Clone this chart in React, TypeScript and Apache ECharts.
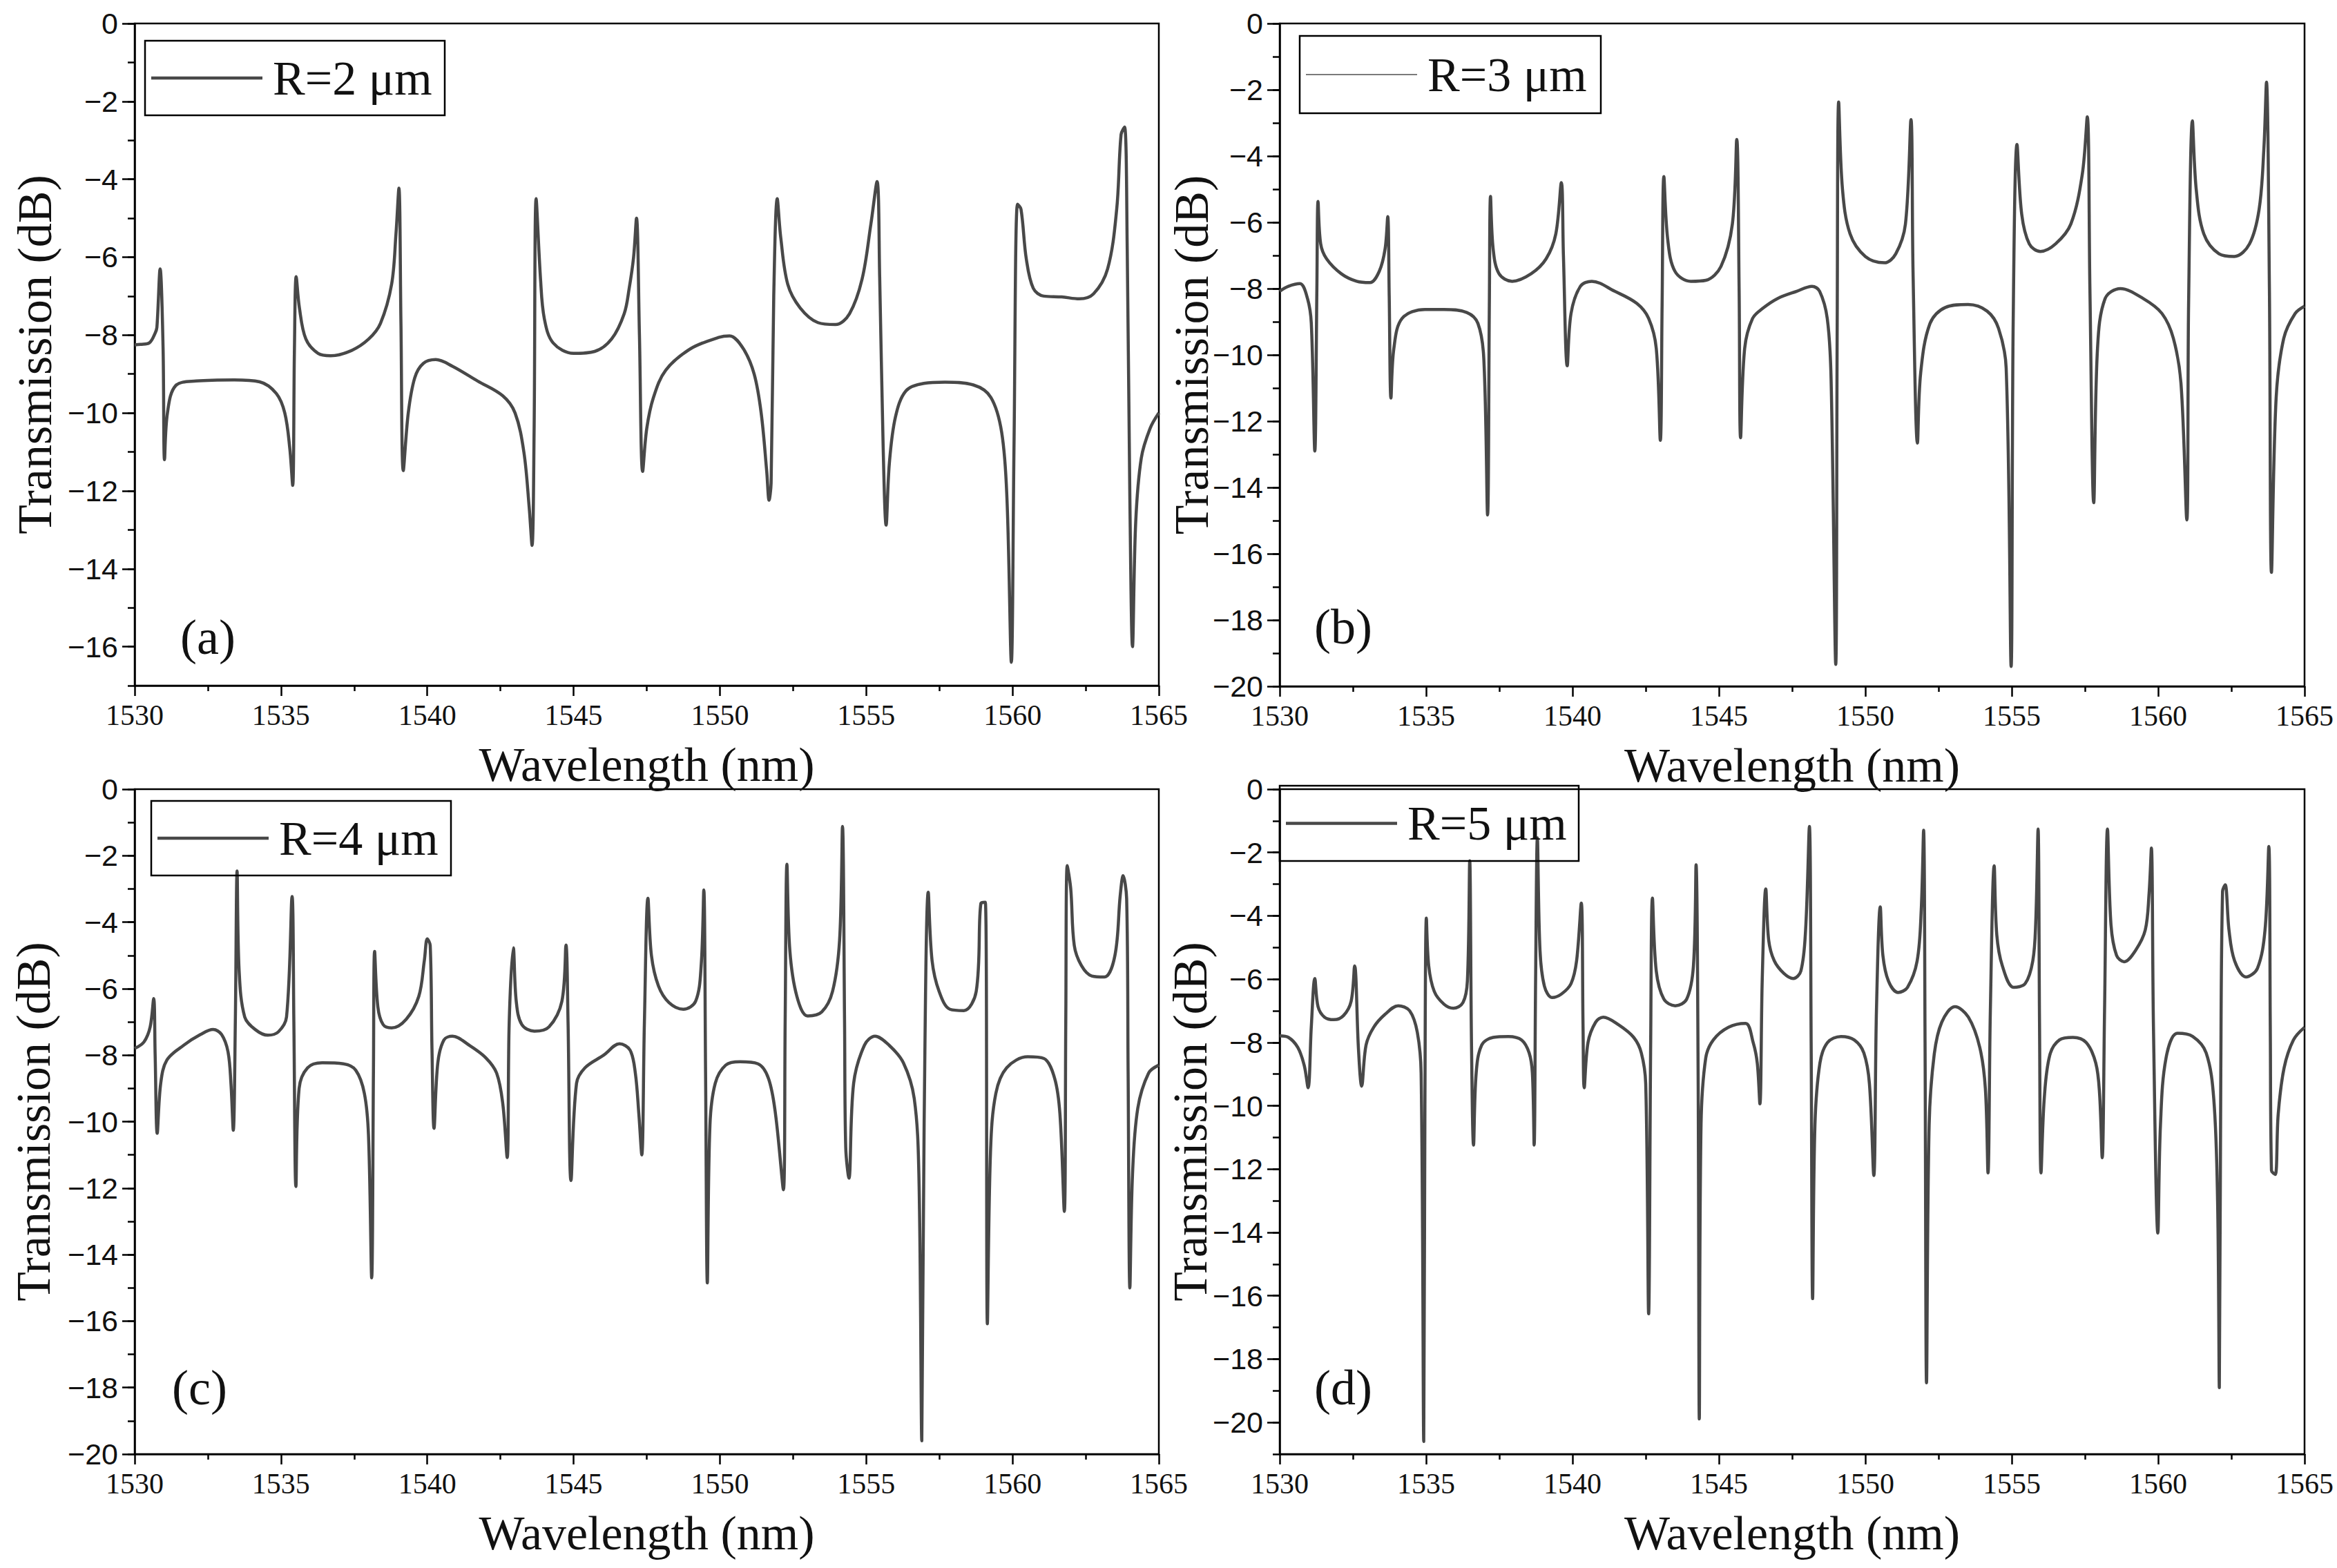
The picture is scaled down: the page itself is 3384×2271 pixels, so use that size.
import React, { useEffect, useRef } from 'react';
import * as echarts from 'echarts';

// transmission spectra: [wavelength nm, transmission dB]
const curveR2: number[][] = [
  [1530.0, -8.25], [1530.2, -8.24], [1530.5, -8.2], [1530.7, -7.95], [1530.76, -7.8], [1530.87, -6.3],
  [1530.97, -8.3], [1531.02, -11.2], [1531.12, -10.0], [1531.4, -9.3], [1532.1, -9.18], [1533.4, -9.15],
  [1534.27, -9.2], [1534.84, -9.5], [1535.13, -10.0], [1535.3, -10.9], [1535.4, -11.86], [1535.46, -8.35],
  [1535.52, -6.5], [1535.63, -7.3], [1535.85, -8.1], [1536.27, -8.47], [1536.7, -8.53], [1537.4, -8.4],
  [1538.0, -8.1], [1538.4, -7.7], [1538.78, -6.7], [1538.93, -5.4], [1539.03, -4.23], [1539.1, -7.7],
  [1539.18, -11.48], [1539.35, -10.0], [1539.57, -9.1], [1539.86, -8.73], [1540.29, -8.63], [1540.86, -8.8],
  [1541.72, -9.18], [1542.58, -9.56], [1543.0, -10.0], [1543.3, -11.0], [1543.48, -12.4], [1543.58, -13.4],
  [1543.65, -10.5], [1543.72, -4.5], [1543.87, -6.56], [1544.0, -7.58], [1544.3, -8.2], [1545.0, -8.47],
  [1545.72, -8.42], [1546.3, -8.1], [1546.73, -7.45], [1546.9, -6.8], [1547.05, -6.0], [1547.15, -5.0],
  [1547.25, -8.0], [1547.36, -11.5], [1547.5, -10.4], [1547.73, -9.6], [1548.15, -8.9], [1549.0, -8.35],
  [1549.96, -8.06], [1550.33, -8.02], [1550.8, -8.35], [1551.17, -9.0], [1551.41, -10.0], [1551.6, -11.5],
  [1551.68, -12.24], [1551.75, -11.8], [1551.84, -7.0], [1551.96, -4.5], [1552.08, -5.5], [1552.32, -6.7],
  [1552.74, -7.3], [1553.35, -7.68], [1553.95, -7.73], [1554.43, -7.45], [1554.86, -6.56], [1555.16, -5.15],
  [1555.37, -4.06], [1555.46, -6.5], [1555.58, -10.9], [1555.68, -12.88], [1555.79, -11.3], [1556.0, -10.1],
  [1556.36, -9.43], [1556.97, -9.24], [1557.69, -9.21], [1558.66, -9.28], [1559.26, -9.6], [1559.63, -10.5],
  [1559.81, -12.2], [1559.96, -16.4], [1560.05, -10.9], [1560.17, -4.64], [1560.29, -4.77], [1560.47, -6.04],
  [1560.71, -6.8], [1561.07, -7.0], [1561.68, -7.02], [1562.28, -7.07], [1562.77, -6.94], [1563.25, -6.3],
  [1563.56, -4.77], [1563.71, -2.85], [1563.83, -2.66], [1563.92, -5.8], [1564.01, -12.2], [1564.1, -16.0],
  [1564.21, -12.8], [1564.4, -11.16], [1564.7, -10.4], [1565.0, -10.0],
];

const curveR3: number[][] = [
  [1530.0, -8.08], [1530.3, -7.93], [1530.69, -7.85], [1530.95, -8.3], [1531.08, -9.05], [1531.2, -12.9],
  [1531.27, -8.0], [1531.31, -5.37], [1531.4, -6.65], [1531.6, -7.1], [1532.1, -7.55], [1532.63, -7.78],
  [1533.08, -7.82], [1533.4, -7.48], [1533.6, -6.8], [1533.69, -5.83], [1533.74, -8.2], [1533.8, -11.3],
  [1533.9, -9.8], [1534.18, -8.9], [1534.96, -8.63], [1535.6, -8.63], [1536.39, -8.72], [1536.77, -9.05],
  [1536.97, -10.1], [1537.1, -14.83], [1537.16, -8.5], [1537.2, -5.22], [1537.29, -6.8], [1537.49, -7.55],
  [1537.94, -7.78], [1538.59, -7.55], [1539.1, -7.1], [1539.43, -6.35], [1539.62, -4.8], [1539.69, -7.0],
  [1539.82, -10.33], [1539.95, -8.75], [1540.27, -7.93], [1540.66, -7.78], [1541.44, -8.08], [1542.2, -8.45],
  [1542.6, -8.9], [1542.86, -9.8], [1543.0, -12.58], [1543.06, -8.5], [1543.12, -4.62], [1543.25, -6.5],
  [1543.5, -7.48], [1544.04, -7.78], [1544.55, -7.75], [1545.07, -7.33], [1545.46, -6.05], [1545.61, -3.5],
  [1545.69, -8.0], [1545.74, -12.5], [1545.88, -9.8], [1546.15, -8.9], [1546.49, -8.6], [1547.0, -8.3],
  [1547.66, -8.08], [1548.18, -7.93], [1548.44, -8.08], [1548.7, -8.9], [1548.83, -10.7], [1548.99, -19.34],
  [1549.04, -9.0], [1549.09, -2.37], [1549.22, -5.0], [1549.48, -6.35], [1550.0, -7.03], [1550.65, -7.22],
  [1551.04, -6.95], [1551.37, -6.05], [1551.56, -2.9], [1551.63, -7.5], [1551.78, -12.66], [1551.89, -10.55],
  [1552.21, -9.05], [1552.73, -8.57], [1553.51, -8.48], [1554.16, -8.68], [1554.55, -9.2], [1554.81, -10.4],
  [1554.98, -19.4], [1555.05, -9.0], [1555.18, -3.65], [1555.34, -5.75], [1555.6, -6.65], [1555.98, -6.88],
  [1556.5, -6.65], [1557.02, -6.05], [1557.41, -4.55], [1557.58, -2.82], [1557.67, -8.0], [1557.8, -14.46],
  [1557.93, -9.8], [1558.19, -8.3], [1558.71, -8.0], [1559.49, -8.3], [1560.13, -8.75], [1560.52, -9.5],
  [1560.78, -10.86], [1560.98, -14.98], [1561.04, -8.5], [1561.17, -2.94], [1561.3, -5.0], [1561.56, -6.35],
  [1562.08, -6.95], [1562.6, -7.03], [1563.12, -6.65], [1563.45, -5.6], [1563.61, -3.8], [1563.7, -1.77],
  [1563.8, -8.0], [1563.87, -16.56], [1564.03, -11.3], [1564.29, -9.5], [1564.68, -8.75], [1565.0, -8.53],
];

const curveR4: number[][] = [
  [1530.0, -7.8], [1530.32, -7.6], [1530.53, -7.15], [1530.65, -6.3], [1530.7, -8.0], [1530.77, -10.35],
  [1530.89, -8.85], [1531.1, -8.15], [1531.68, -7.7], [1532.25, -7.38], [1532.68, -7.23], [1532.97, -7.38],
  [1533.19, -7.9], [1533.29, -8.85], [1533.37, -10.26], [1533.44, -7.0], [1533.5, -2.46], [1533.57, -5.46],
  [1533.76, -6.85], [1534.12, -7.23], [1534.55, -7.4], [1534.91, -7.3], [1535.19, -6.85], [1535.38, -3.23],
  [1535.44, -7.0], [1535.51, -11.95], [1535.62, -9.0], [1535.91, -8.38], [1536.41, -8.23], [1537.13, -8.26],
  [1537.56, -8.46], [1537.85, -9.15], [1537.99, -10.4], [1538.1, -14.7], [1538.16, -8.5], [1538.2, -4.88],
  [1538.31, -6.54], [1538.49, -7.08], [1538.78, -7.18], [1539.28, -6.92], [1539.71, -6.23], [1539.9, -5.15],
  [1540.0, -4.5], [1540.1, -4.7], [1540.16, -7.8], [1540.23, -10.2], [1540.36, -8.23], [1540.57, -7.54],
  [1540.86, -7.43], [1541.43, -7.7], [1542.0, -8.08], [1542.37, -8.54], [1542.58, -9.46], [1542.73, -11.08],
  [1542.8, -7.0], [1542.94, -4.77], [1543.04, -6.38], [1543.23, -7.08], [1543.66, -7.28], [1544.16, -7.15],
  [1544.6, -6.38], [1544.74, -4.69], [1544.81, -7.0], [1544.91, -11.77], [1545.1, -8.85], [1545.39, -8.38],
  [1546.03, -8.0], [1546.57, -7.66], [1546.93, -7.85], [1547.11, -8.54], [1547.23, -9.77], [1547.33, -11.0],
  [1547.42, -7.0], [1547.54, -3.28], [1547.66, -5.0], [1547.9, -5.92], [1548.26, -6.42], [1548.75, -6.62],
  [1549.17, -6.38], [1549.36, -5.3], [1549.45, -3.03], [1549.51, -8.5], [1549.57, -14.85], [1549.66, -10.1],
  [1549.84, -8.85], [1550.2, -8.3], [1550.69, -8.2], [1551.3, -8.26], [1551.66, -8.7], [1551.9, -9.77],
  [1552.17, -12.05], [1552.23, -7.0], [1552.29, -2.26], [1552.39, -4.85], [1552.63, -6.23], [1553.0, -6.82],
  [1553.48, -6.7], [1553.85, -6.08], [1554.09, -4.54], [1554.19, -1.12], [1554.26, -7.0], [1554.3, -10.77],
  [1554.41, -11.7], [1554.57, -8.85], [1554.94, -7.7], [1555.3, -7.43], [1555.78, -7.7], [1556.27, -8.23],
  [1556.64, -9.3], [1556.8, -11.6], [1556.9, -19.6], [1556.98, -10.0], [1557.12, -3.1], [1557.25, -5.15],
  [1557.49, -6.08], [1557.86, -6.62], [1558.34, -6.66], [1558.76, -6.08], [1558.92, -3.43], [1559.07, -3.4],
  [1559.14, -16.08], [1559.25, -10.85], [1559.43, -9.15], [1559.8, -8.38], [1560.52, -8.05], [1561.07, -8.1],
  [1561.44, -8.7], [1561.62, -9.77], [1561.77, -12.7], [1561.82, -7.0], [1561.87, -2.3], [1561.99, -3.0],
  [1562.11, -4.7], [1562.35, -5.3], [1562.71, -5.62], [1563.14, -5.65], [1563.5, -5.0], [1563.68, -3.2],
  [1563.78, -2.6], [1563.9, -3.3], [1563.95, -8.5], [1564.01, -15.0], [1564.1, -11.6], [1564.28, -9.6],
  [1564.65, -8.54], [1565.0, -8.3],
];

const curveR5: number[][] = [
  [1530.0, -7.79], [1530.3, -7.84], [1530.62, -8.16], [1530.84, -8.73], [1530.97, -9.43], [1531.08, -7.5],
  [1531.2, -5.98], [1531.31, -6.87], [1531.53, -7.2], [1531.85, -7.28], [1532.18, -7.15], [1532.44, -6.7],
  [1532.56, -5.58], [1532.69, -8.2], [1532.8, -9.38], [1532.95, -8.08], [1533.21, -7.52], [1533.6, -7.11],
  [1534.05, -6.84], [1534.44, -7.0], [1534.7, -7.68], [1534.83, -8.97], [1534.92, -20.6], [1534.96, -10.0],
  [1535.01, -4.07], [1535.09, -5.58], [1535.28, -6.39], [1535.61, -6.79], [1535.93, -6.92], [1536.26, -6.74],
  [1536.41, -6.06], [1536.49, -2.26], [1536.55, -8.0], [1536.62, -11.24], [1536.71, -8.97], [1536.9, -8.08],
  [1537.29, -7.84], [1537.81, -7.81], [1538.26, -7.92], [1538.52, -8.33], [1538.63, -8.97], [1538.69, -11.24],
  [1538.74, -6.0], [1538.8, -1.54], [1538.89, -5.09], [1539.04, -6.22], [1539.3, -6.58], [1539.62, -6.47],
  [1539.95, -6.14], [1540.14, -5.42], [1540.3, -3.6], [1540.36, -7.5], [1540.4, -9.43], [1540.53, -8.0],
  [1540.79, -7.36], [1541.05, -7.2], [1541.57, -7.44], [1542.09, -7.84], [1542.35, -8.33], [1542.5, -9.3],
  [1542.6, -16.57], [1542.67, -8.0], [1542.73, -3.44], [1542.86, -5.74], [1543.12, -6.63], [1543.51, -6.84],
  [1543.9, -6.63], [1544.13, -5.58], [1544.22, -2.39], [1544.29, -9.0], [1544.33, -19.89], [1544.39, -10.6],
  [1544.55, -8.49], [1544.81, -7.92], [1545.33, -7.52], [1545.91, -7.4], [1546.17, -8.0], [1546.31, -8.65],
  [1546.4, -9.94], [1546.48, -6.0], [1546.6, -3.15], [1546.7, -4.77], [1546.89, -5.42], [1547.22, -5.82],
  [1547.54, -5.98], [1547.8, -5.74], [1547.96, -4.45], [1548.09, -1.18], [1548.15, -8.0], [1548.2, -16.09],
  [1548.28, -10.6], [1548.45, -8.65], [1548.71, -8.0], [1549.17, -7.81], [1549.62, -7.92], [1549.95, -8.33],
  [1550.14, -9.3], [1550.29, -12.2], [1550.38, -7.0], [1550.51, -3.72], [1550.6, -5.25], [1550.79, -6.06],
  [1551.12, -6.42], [1551.44, -6.26], [1551.77, -5.42], [1551.91, -3.8], [1551.99, -1.3], [1552.04, -8.0],
  [1552.09, -18.75], [1552.18, -10.6], [1552.35, -8.4], [1552.61, -7.36], [1553.06, -6.87], [1553.52, -7.2],
  [1553.91, -8.16], [1554.1, -9.46], [1554.19, -12.12], [1554.27, -7.0], [1554.4, -2.42], [1554.49, -4.6],
  [1554.68, -5.58], [1555.07, -6.26], [1555.46, -6.14], [1555.72, -5.42], [1555.82, -4.2], [1555.9, -1.26],
  [1555.95, -7.5], [1556.0, -12.12], [1556.11, -9.78], [1556.3, -8.4], [1556.63, -7.92], [1557.09, -7.84],
  [1557.54, -8.0], [1557.87, -8.65], [1558.0, -9.62], [1558.09, -11.64], [1558.17, -7.0], [1558.27, -1.26],
  [1558.39, -4.28], [1558.58, -5.25], [1558.84, -5.45], [1559.23, -5.09], [1559.56, -4.45], [1559.69, -3.3],
  [1559.77, -1.86], [1559.84, -7.5], [1559.99, -14.02], [1560.08, -10.6], [1560.27, -8.49], [1560.66, -7.71],
  [1561.18, -7.81], [1561.64, -8.33], [1561.9, -9.78], [1562.03, -13.0], [1562.09, -18.9], [1562.14, -9.0],
  [1562.2, -3.23], [1562.29, -3.02], [1562.42, -4.45], [1562.61, -5.42], [1563.0, -5.93], [1563.39, -5.66],
  [1563.65, -4.45], [1563.78, -1.81], [1563.83, -7.5], [1563.87, -12.04], [1564.0, -12.17], [1564.1, -10.27],
  [1564.3, -8.81], [1564.62, -7.92], [1565.0, -7.52],
];

const seriesNames = ['R=2 μm', 'R=3 μm', 'R=4 μm', 'R=5 μm'];
const panelTags = ['(a)', '(b)', '(c)', '(d)'];
const yMins = [-17, -20, -20, -21];
const yTicksA = [0, -2, -4, -6, -8, -10, -12, -14, -16];
const yTicksB = [0, -2, -4, -6, -8, -10, -12, -14, -16, -18, -20];
const yTicksC = [0, -2, -4, -6, -8, -10, -12, -14, -16, -18, -20];
const yTicksD = [0, -2, -4, -6, -8, -10, -12, -14, -16, -18, -20];
const xMin = 1530;
const xMax = 1565;
const xStep = 5;

const curves = [curveR2, curveR3, curveR4, curveR5];
const yTicks = [yTicksA, yTicksB, yTicksC, yTicksD];

// layout in page pixels
const plots = [
  { left: 195, top: 34, width: 1483, height: 959 },
  { left: 1853, top: 34, width: 1484, height: 960 },
  { left: 195, top: 1143, width: 1483, height: 963 },
  { left: 1853, top: 1143, width: 1484, height: 963 },
];
const legendBoxes = [
  { x: 210, y: 59, w: 434, h: 108, lineW: 4.5, lineColor: '#484848' },
  { x: 1882, y: 52, w: 436, h: 112, lineW: 2, lineColor: '#7a7a7a' },
  { x: 219, y: 1160, w: 434, h: 108, lineW: 4.5, lineColor: '#484848' },
  { x: 1853, y: 1138, w: 433, h: 109, lineW: 4.5, lineColor: '#484848' },
];
const tagPos = [[301, 923], [1945, 908], [289, 2010], [1945, 2010]];
const yTitleX = [50, 1725, 48, 1723];

const SERIF = 'Liberation Serif, Times New Roman, serif';
const SANS = 'Liberation Sans, Arial, sans-serif';
const INK = '#111';
const CURVE = '#484848';

const fmtY = (v: number) => (v === 0 ? '0' : v < 0 ? '\u2212' + Math.abs(v) : String(v));

const App = () => {
  const chartRef = useRef<HTMLDivElement>(null);

  useEffect(() => {
    const chart = echarts.init(chartRef.current, null, { renderer: 'svg' });

    const axisLine = { show: true, onZero: false, lineStyle: { color: '#000', width: 2.5 } };
    const tickLine = { color: '#000', width: 2.5 };

    const grid = plots.map((p) => ({
      ...p,
      show: true,
      borderColor: '#000',
      borderWidth: 2.5,
      backgroundColor: 'transparent',
    }));

    const xAxis = plots.map((_, i) => ({
      type: 'value',
      gridIndex: i,
      min: xMin,
      max: xMax,
      interval: xStep,
      axisLine,
      axisTick: { show: true, length: 15, lineStyle: tickLine },
      minorTick: { show: true, splitNumber: 2, length: 8, lineStyle: tickLine },
      axisLabel: { formatter: (v: number) => String(v), fontFamily: SERIF, fontSize: 42, color: INK, margin: 22 },
      splitLine: { show: false },
      minorSplitLine: { show: false },
    }));

    const yAxis: any[] = [];
    plots.forEach((_, i) => {
      const ticks = yTicks[i];
      // labelled axis with long ticks on the even values
      yAxis.push({
        type: 'value',
        gridIndex: i,
        position: 'left',
        min: yMins[i],
        max: 0,
        interval: 1,
        axisLine,
        axisTick: { show: true, length: 18, lineStyle: tickLine, customValues: ticks },
        axisLabel: {
          customValues: ticks,
          formatter: (v: number) => (Math.abs(v) % 2 === 0 ? fmtY(v) : ''),
          fontFamily: SANS,
          fontSize: 43,
          color: INK,
          margin: 24,
        },
        splitLine: { show: false },
      });
      // short ticks on every integer
      yAxis.push({
        type: 'value',
        gridIndex: i,
        position: 'left',
        min: yMins[i],
        max: 0,
        interval: 1,
        axisLine: { show: false },
        axisTick: { show: true, length: 10, lineStyle: tickLine },
        axisLabel: { show: false },
        splitLine: { show: false },
      });
    });

    const series = curves.map((c, i) => ({
      name: seriesNames[i],
      type: 'line',
      xAxisIndex: i,
      yAxisIndex: i * 2,
      data: c,
      symbol: 'none',
      showSymbol: false,
      smooth: 0.35,
      lineStyle: { color: CURVE, width: 4.5, join: 'round' },
      clip: true,
    }));

    const graphic: any[] = [];
    plots.forEach((p, i) => {
      const cx = p.left + p.width / 2;
      const cy = p.top + p.height / 2;
      graphic.push({
        type: 'text',
        x: cx,
        y: p.top + p.height + 114,
        style: { text: 'Wavelength (nm)', fontFamily: SERIF, fontSize: 70, fill: INK, align: 'center', verticalAlign: 'middle' },
      });
      graphic.push({
        type: 'text',
        x: yTitleX[i],
        y: cy,
        rotation: Math.PI / 2,
        style: { text: 'Transmission (dB)', fontFamily: SERIF, fontSize: 70, fill: INK, align: 'center', verticalAlign: 'middle' },
      });
      graphic.push({
        type: 'text',
        x: tagPos[i][0],
        y: tagPos[i][1],
        style: { text: panelTags[i], fontFamily: SERIF, fontSize: 72, fill: INK, align: 'center', verticalAlign: 'middle' },
      });
      const lb = legendBoxes[i];
      const my = lb.y + lb.h / 2;
      graphic.push({
        type: 'rect',
        shape: { x: lb.x, y: lb.y, width: lb.w, height: lb.h },
        style: { fill: 'transparent', stroke: '#000', lineWidth: 2.5 },
        z: 10,
      });
      graphic.push({
        type: 'line',
        shape: { x1: lb.x + 9, y1: my, x2: lb.x + 170, y2: my },
        style: { stroke: lb.lineColor, lineWidth: lb.lineW },
        z: 10,
      });
      graphic.push({
        type: 'text',
        x: lb.x + 185,
        y: my,
        style: { text: seriesNames[i], fontFamily: SERIF, fontSize: 70, fill: INK, align: 'left', verticalAlign: 'middle' },
        z: 10,
      });
    });

    chart.setOption({
      animation: false,
      backgroundColor: '#fff',
      grid,
      xAxis,
      yAxis,
      series,
      graphic,
    });

    return () => {
      chart.dispose();
    };
  }, []);

  return (
    <div
      ref={chartRef}
      style={{ position: 'absolute', left: 0, top: 0, width: '3384px', height: '2271px', backgroundColor: 'white' }}
    />
  );
};

export default App;
